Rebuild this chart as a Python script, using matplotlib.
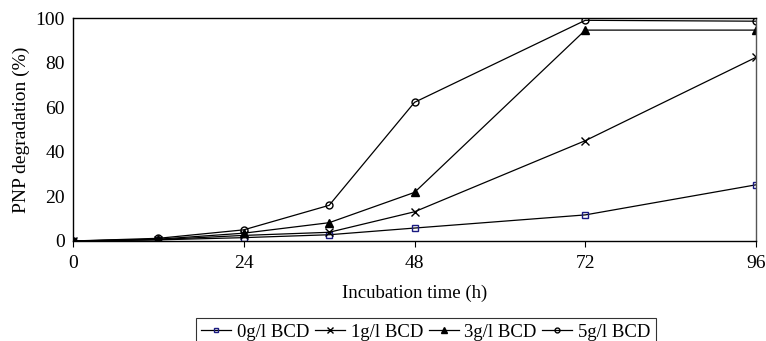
import numpy as np
import matplotlib

matplotlib.use("Agg")
import matplotlib.pyplot as plt

plt.rcParams["font.family"] = ["Liberation Serif", "DejaVu Serif"]

hours = [0, 12, 24, 36, 48, 72, 96]
bcd_0 = [0, 0.5, 1.5, 2.8, 5.8, 11.7, 25.2]
bcd_1 = [0, 0.6, 2.5, 3.9, 13.1, 45.0, 82.4]
bcd_3 = [0, 0.8, 3.5, 8.2, 21.8, 94.6, 94.6]
bcd_5 = [0, 1.2, 5.0, 16.0, 62.2, 99.0, 98.6]
labels = ["0g/l BCD", "1g/l BCD", "3g/l BCD", "5g/l BCD"]

fig = plt.figure(figsize=(7.66, 3.41), dpi=100)
ax = fig.add_axes([0.0953, 0.2933, 0.8917, 0.6537])

ax.plot(hours, bcd_0, color="black", lw=0.9, marker="s", ms=5,
        mfc="none", mec="#1a1a80", mew=1.0, label=labels[0])
ax.plot(hours, bcd_1, color="black", lw=0.9, marker="x", ms=6,
        mec="black", mew=1.0, label=labels[1])
ax.plot(hours, bcd_3, color="black", lw=0.9, marker="^", ms=6,
        mfc="black", mec="black", label=labels[2])
ax.plot(hours, bcd_5, color="black", lw=0.9, marker="o", ms=5,
        mfc="none", mec="black", mew=1.0, label=labels[3])

ax.set_xlim(0, 96)
ax.set_ylim(0, 100)
ax.set_xticks([0, 24, 48, 72, 96])
ax.set_yticks([0, 20, 40, 60, 80, 100])
ax.tick_params(labelsize=14, length=4, width=0.8, direction="out")
ax.tick_params(axis="y", length=0, pad=6)
ax.tick_params(axis="x", pad=6)
for s in ax.spines.values():
    s.set_linewidth(1.0)
ax.spines["right"].set_color("#555555")
ax.set_xlabel("Incubation time (h)", fontsize=13.5, labelpad=9)
ax.set_ylabel("PNP degradation (%)", fontsize=14, labelpad=4)

leg = fig.legend(loc="upper center", bbox_to_anchor=(0.556, 0.068), ncol=4,
                 fontsize=13.5, handlelength=1.6, handletextpad=0.3,
                 columnspacing=0.3, markerscale=0.7, fancybox=False,
                 borderpad=0.3, borderaxespad=0)
leg.get_frame().set_edgecolor("black")
leg.get_frame().set_linewidth(0.8)

fig.savefig("out.png", dpi=100)
